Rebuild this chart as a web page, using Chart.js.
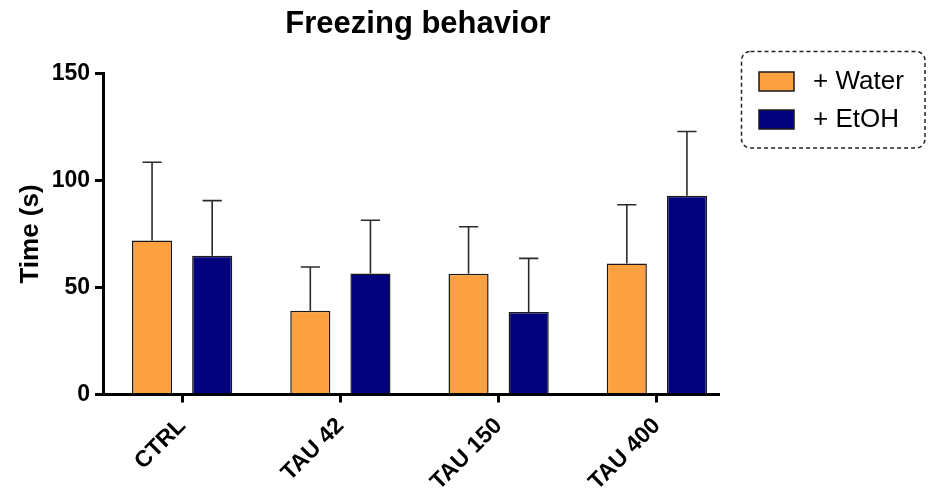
<!DOCTYPE html>
<html>
<head>
<meta charset="utf-8">
<title>Freezing behavior</title>
<script src="https://cdn.jsdelivr.net/npm/chart.js@4/dist/chart.umd.min.js"></script>
<style>
  html, body { margin: 0; padding: 0; background: #fff; }
  #wrap { width: 935px; height: 495px; }
</style>
</head>
<body>
<div id="wrap"><canvas id="c" width="935" height="495"></canvas></div>
<script>
// Groups and measurements (mean and SEM, seconds)
const categories = ['CTRL', 'TAU 42', 'TAU 150', 'TAU 400'];
const waterMean = [72.0, 39.1, 56.4, 61.2];
const waterErr  = [36.5, 20.5, 22.0, 27.5];
const etohMean  = [64.8, 56.6, 38.5, 92.9];
const etohErr   = [25.8, 24.8, 25.1, 30.0];
const yTicks    = [0, 50, 100, 150];
const seriesNames = ['+ Water', '+ EtOH'];

const FONT = '"Liberation Sans", Arial, Helvetica, sans-serif';
const ORANGE = '#FCA042';
const NAVY = '#02027F';

// Upward-only error bars with caps, drawn from each dataset's "err" array
const errorBars = {
  id: 'errorBars',
  afterDatasetsDraw(chart) {
    const ctx = chart.ctx;
    const y = chart.scales.y;
    chart.data.datasets.forEach((ds, i) => {
      const meta = chart.getDatasetMeta(i);
      meta.data.forEach((bar, j) => {
        const top = y.getPixelForValue(ds.data[j] + ds.err[j]);
        const half = bar.width * 0.24;
        ctx.save();
        ctx.strokeStyle = '#2b2b2b';
        ctx.lineWidth = 1.6;
        ctx.beginPath();
        ctx.moveTo(bar.x, bar.y);
        ctx.lineTo(bar.x, top);
        ctx.moveTo(bar.x - half, top);
        ctx.lineTo(bar.x + half, top);
        ctx.stroke();
        ctx.restore();
      });
    });
  }
};

// Heavy axis lines (x axis stops short of the chart area's right edge)
const axisLines = {
  id: 'axisLines',
  afterDraw(chart) {
    const ctx = chart.ctx;
    const a = chart.chartArea;
    ctx.save();
    ctx.strokeStyle = '#000';
    ctx.lineWidth = 3;
    ctx.beginPath();
    ctx.moveTo(a.left - 1.5, a.bottom);
    ctx.lineTo(a.right - 16, a.bottom);
    ctx.stroke();
    ctx.restore();
  }
};

// Title and dashed legend box
const decorations = {
  id: 'decorations',
  afterDraw(chart) {
    const ctx = chart.ctx;
    ctx.save();
    ctx.fillStyle = '#000';
    ctx.font = 'bold 31px ' + FONT;
    ctx.textAlign = 'center';
    ctx.textBaseline = 'middle';
    ctx.fillText('Freezing behavior', 418, 24);

    // legend frame
    ctx.setLineDash([4, 3]);
    ctx.lineWidth = 1.5;
    ctx.strokeStyle = '#222';
    ctx.beginPath();
    ctx.roundRect(741.5, 51.5, 183.5, 96.5, 9);
    ctx.stroke();
    ctx.setLineDash([]);

    chart.data.datasets.forEach((ds, i) => {
      const sy = 72 + i * 38;
      ctx.fillStyle = ds.backgroundColor;
      ctx.fillRect(759, sy, 35, 19);
      ctx.lineWidth = 1.5;
      ctx.strokeStyle = '#1a1a1a';
      ctx.strokeRect(759, sy, 35, 19);
      ctx.fillStyle = '#000';
      ctx.font = '26px ' + FONT;
      ctx.textAlign = 'left';
      ctx.textBaseline = 'middle';
      ctx.fillText(ds.label, 813, sy + 10);
    });
    ctx.restore();
  }
};

new Chart(document.getElementById('c'), {
  type: 'bar',
  data: {
    labels: categories,
    datasets: [
      {
        label: seriesNames[0],
        data: waterMean,
        err: waterErr,
        backgroundColor: ORANGE,
        borderColor: '#1a1a1a',
        borderWidth: 1.5,
        categoryPercentage: 0.76,
        barPercentage: 0.667
      },
      {
        label: seriesNames[1],
        data: etohMean,
        err: etohErr,
        backgroundColor: NAVY,
        borderColor: '#1a1a1a',
        borderWidth: 1.5,
        categoryPercentage: 0.76,
        barPercentage: 0.667
      }
    ]
  },
  options: {
    responsive: false,
    animation: false,
    layout: { padding: { top: 73.5, right: 199, bottom: 0, left: 0 } },
    plugins: {
      legend: { display: false },
      title: { display: false },
      tooltip: { enabled: false }
    },
    scales: {
      x: {
        grid: {
          display: true,
          offset: false,
          drawOnChartArea: false,
          drawTicks: true,
          tickLength: 8,
          tickWidth: 3,
          color: '#000'
        },
        border: { display: false },
        ticks: {
          minRotation: 45,
          maxRotation: 45,
          color: '#000',
          padding: 10,
          font: { family: FONT, size: 23, weight: 'bold' }
        },
        afterFit(scale) { scale.height = 100.5; }
      },
      y: {
        min: 0,
        max: 150,
        afterBuildTicks(scale) { scale.ticks = yTicks.map(v => ({ value: v })); },
        grid: {
          display: true,
          drawOnChartArea: false,
          drawTicks: true,
          tickLength: 8,
          tickWidth: 3,
          color: '#000'
        },
        border: { display: true, width: 3, color: '#000' },
        ticks: {
          color: '#000',
          padding: 5,
          font: { family: FONT, size: 23, weight: 'bold' }
        },
        title: {
          display: true,
          text: 'Time (s)',
          color: '#000',
          padding: { top: 15, bottom: 0 },
          font: { family: FONT, size: 26, weight: 'bold' }
        },
        afterFit(scale) { scale.width = 103; }
      }
    }
  },
  plugins: [errorBars, axisLines, decorations]
});
</script>
</body>
</html>
